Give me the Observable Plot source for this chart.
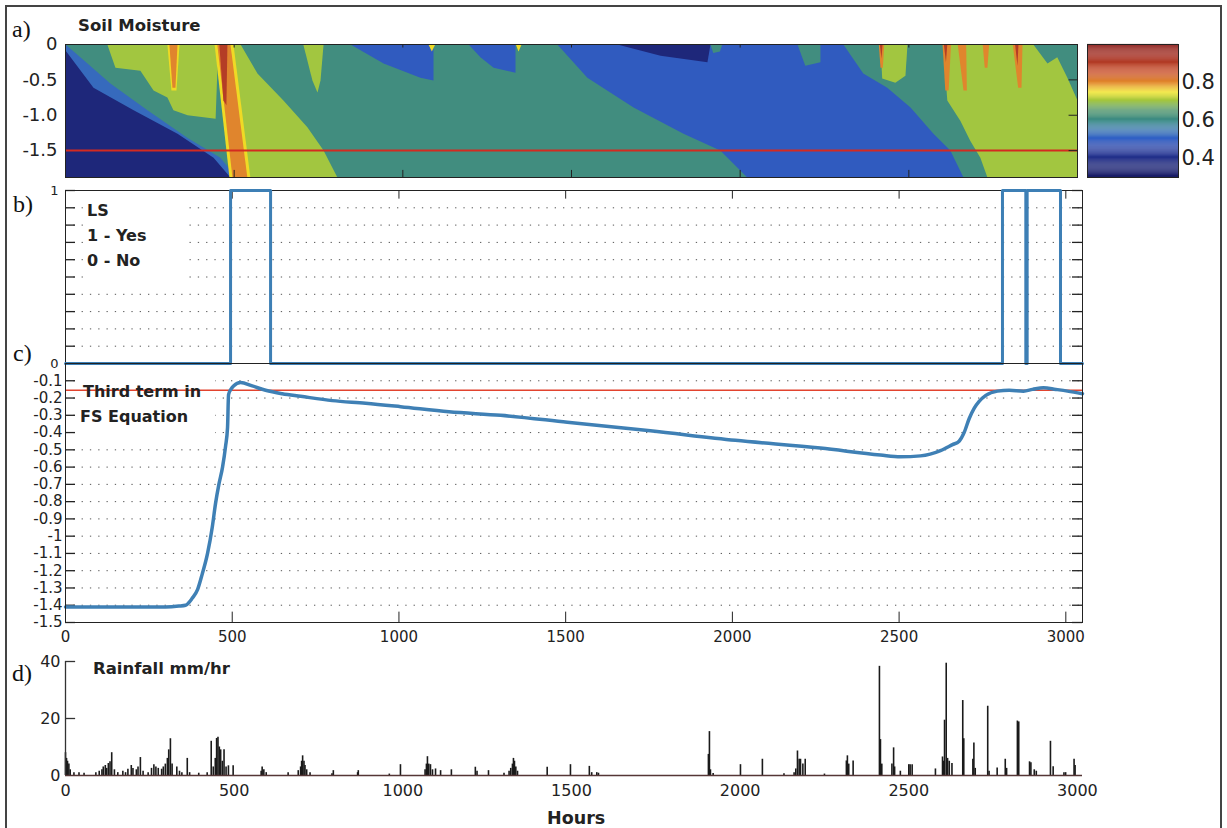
<!DOCTYPE html>
<html><head><meta charset="utf-8">
<script src="https://cdn.jsdelivr.net/npm/d3@7"></script>
<script src="https://cdn.jsdelivr.net/npm/@observablehq/plot@0.6"></script>
<style>
body{margin:0;background:#fff;}
#root{position:relative;width:1227px;height:828px;overflow:hidden;font-family:"DejaVu Sans",sans-serif;background:#fff;}
.panel{position:absolute;}
.lab{position:absolute;font-family:"Liberation Serif","DejaVu Serif",serif;font-size:24px;line-height:1;color:#111;}
.bold{position:absolute;font-weight:bold;line-height:1;color:#222;white-space:nowrap;font-family:"DejaVu Sans",sans-serif;}
#border{position:absolute;left:5px;top:5px;width:1217px;height:840px;border:2px solid #444;box-sizing:border-box;}
</style></head><body><div id="root"><div id="border"></div></div>
<script>
// ---------- axis tick values ----------
const hourTicks = [0, 500, 1000, 1500, 2000, 2500, 3000];
const depthTicks = [0, -0.5, -1.0, -1.5];
const colorbarTicks = [0.4, 0.6, 0.8];
const lsTicks = [0, 1];
const lsGrid = [0.1, 0.2, 0.3, 0.4, 0.5, 0.6, 0.7, 0.8, 0.9];
const fsTicks = [-0.1, -0.2, -0.3, -0.4, -0.5, -0.6, -0.7, -0.8, -0.9, -1, -1.1, -1.2, -1.3, -1.4, -1.5];
const fsGrid = [-0.1, -0.2, -0.3, -0.4, -0.5, -0.6, -0.7, -0.8, -0.9, -1, -1.1, -1.2, -1.3, -1.4];
const rainTicks = [0, 20, 40];

// ---------- colour map (jet-like) ----------
const colorStops = [0.30, 0.38, 0.44, 0.50, 0.54, 0.59, 0.65, 0.70, 0.745, 0.79, 0.85, 0.93, 1.0];
const colorRamp = ["#1a1d66","#1f2a80","#2b3f9e","#3160c6","#3a74b4","#3a8a8a","#4f9468","#a2c640","#f0e324","#e4902e","#c9502a","#a83224","#8a1f1c"];

// ---------- a) soil moisture zones: [hours, depth] outlines, with moisture level ----------
const zoneBase = [[0,0],[3000,0],[3000,-1.88],[0,-1.88]];
const zoneBlueLeft = [[0,0],[44,-0.18],[133,-0.55],[243,-0.93],[362,-1.32],[459,-1.60],[507,-1.88],[0,-1.88]];
const zoneNavyLeft = [[0,-0.085],[83,-0.61],[202,-0.93],[332,-1.26],[439,-1.60],[489,-1.88],[0,-1.88]];
const zoneGreenLeft = [[124,0],[148,-0.33],[222,-0.37],[261,-0.65],[302,-0.75],[320,-0.93],[362,-1.0],[445,-1.05],[453,0]];
const zoneGreenWedge = [[489,0],[519,0],[569,-0.41],[646,-0.79],[717,-1.17],[765,-1.5],[806,-1.88],[520,-1.88]];
const zoneGreenSpike = [[705,0],[765,0],[756,-0.51],[747,-0.68],[732,-0.51]];
const zoneStreakSmallHalo = [[302,0],[338,0],[329,-0.65],[314,-0.65]];
const zoneStreakSmall = [[308,0],[332,0],[326,-0.61],[317,-0.61]];
const zoneStreakMainHalo = [[442,0],[498,0],[548,-1.88],[486,-1.88]];
const zoneStreakMain = [[450,0],[489,0],[539,-1.88],[495,-1.88]];
const zoneStreakMainCore = [[456,0],[480,0],[477,-0.86],[468,-0.79]];
const zoneBlueWedge1 = [[845,0],[1091,0],[1091,-0.51],[1052,-0.47],[943,-0.27]];
const zoneBlueWedge2 = [[1195,0],[1334,0],[1334,-0.40],[1269,-0.33],[1230,-0.18]];
const zoneYellowDot1 = [[1076,0],[1096,0],[1086,-0.1]];
const zoneYellowDot2 = [[1335,0],[1352,0],[1343,-0.1]];
const zoneBlueMid = [[1458,0],[2306,0],[2365,-0.41],[2436,-0.61],[2505,-0.89],[2573,-1.26],[2623,-1.5],[2662,-1.88],[2021,-1.88],[1941,-1.5],[1832,-1.26],[1684,-0.89],[1547,-0.47]];
const zoneNavyTop = [[1636,0],[1912,0],[1903,-0.25],[1764,-0.16]];
const zoneTealNotch1 = [[1912,0],[1947,0],[1940,-0.1],[1920,-0.12]];
const zoneTealNotch2 = [[2170,0],[2238,0],[2238,-0.25],[2193,-0.3]];
const zoneGreenBlob = [[2416,0],[2496,0],[2490,-0.44],[2460,-0.54],[2421,-0.48]];
const zoneGreenRight = [[2602,0],[2869,0],[2911,-0.27],[2940,-0.18],[2970,-0.47],[3000,-0.79],[3000,-1.88],[2733,-1.88],[2712,-1.6],[2682,-1.36],[2653,-1.08],[2614,-0.79]];
const zoneStreakA = [[2411,0],[2427,0],[2423,-0.33],[2416,-0.33]];
const zoneStreakB = [[2600,0],[2625,0],[2618,-0.65],[2608,-0.65]];
const zoneStreakC = [[2645,0],[2670,0],[2672,-0.65],[2662,-0.65]];
const zoneStreakD = [[2719,0],[2738,0],[2733,-0.33],[2725,-0.33]];
const zoneStreakE = [[2808,0],[2837,0],[2834,-0.61],[2824,-0.61]];
const zoneCoreA = [[2414,0],[2422,0],[2419,-0.2]];
const zoneCoreB = [[2604,0],[2614,0],[2610,-0.25]];
const zoneCoreE = [[2815,0],[2825,0],[2822,-0.3]];

const lvNavy = 0.36, lvBlue = 0.49, lvBlueLight = 0.52, lvTeal = 0.61, lvGreen = 0.70, lvYellow = 0.75, lvOrange = 0.80, lvRed = 0.90;

const zones = [
  ["base", lvTeal, zoneBase], ["blueLeft", lvBlueLight, zoneBlueLeft], ["navyLeft", lvNavy, zoneNavyLeft],
  ["greenLeft", lvGreen, zoneGreenLeft], ["greenWedge", lvGreen, zoneGreenWedge], ["greenSpike", lvGreen, zoneGreenSpike],
  ["smallHalo", lvYellow, zoneStreakSmallHalo], ["small", lvOrange, zoneStreakSmall],
  ["mainHalo", lvYellow, zoneStreakMainHalo], ["main", lvOrange, zoneStreakMain], ["mainCore", lvRed, zoneStreakMainCore],
  ["blueW1", lvBlue, zoneBlueWedge1], ["blueW2", lvBlue, zoneBlueWedge2],
  ["ydot1", lvYellow, zoneYellowDot1], ["ydot2", lvYellow, zoneYellowDot2],
  ["blueMid", lvBlue, zoneBlueMid], ["navyTop", lvNavy, zoneNavyTop],
  ["notch1", lvTeal, zoneTealNotch1], ["notch2", lvTeal, zoneTealNotch2],
  ["greenBlob", lvGreen, zoneGreenBlob], ["greenRight", lvGreen, zoneGreenRight],
  ["sA", lvOrange, zoneStreakA], ["sB", lvOrange, zoneStreakB], ["sC", lvOrange, zoneStreakC],
  ["sD", lvOrange, zoneStreakD], ["sE", lvOrange, zoneStreakE],
  ["cA", lvRed, zoneCoreA], ["cB", lvRed, zoneCoreB], ["cE", lvRed, zoneCoreE]
];
const criticalDepth = -1.5;

// ---------- b) landslide indicator (step outline) ----------
const lsHours = [0, 495, 495, 615, 615, 2810, 2810, 2880, 2880, 2884, 2884, 2984, 2984, 3050];
const lsState = [0, 0, 1, 1, 0, 0, 1, 1, 0, 0, 1, 1, 0, 0];

// ---------- c) third term in FS equation ----------
const fsHours = [0, 100, 200, 300, 340, 360, 380, 396, 410, 426, 440, 450, 460, 471, 480, 486, 489, 496, 504, 525, 560, 600, 650, 705, 800, 900, 1005, 1150, 1305, 1505, 1754, 2009, 2264, 2444, 2504, 2564, 2624, 2660, 2680, 2695, 2710, 2725, 2740, 2760, 2795, 2830, 2873, 2900, 2933, 2970, 3005, 3050];
const fsValue = [-1.41, -1.41, -1.41, -1.41, -1.405, -1.40, -1.36, -1.31, -1.22, -1.10, -0.95, -0.81, -0.70, -0.60, -0.48, -0.37, -0.18, -0.15, -0.13, -0.11, -0.13, -0.155, -0.175, -0.19, -0.215, -0.23, -0.25, -0.28, -0.30, -0.34, -0.39, -0.445, -0.49, -0.53, -0.54, -0.535, -0.505, -0.47, -0.45, -0.40, -0.32, -0.26, -0.22, -0.185, -0.16, -0.155, -0.16, -0.15, -0.14, -0.15, -0.16, -0.175];
const fsThreshold = -0.155;

// ---------- d) rainfall ----------
const rainHours = [0,3,6,10,14,25,40,55,90,100,108,112,118,122,127,132,137,145,155,170,178,185,195,200,210,215,222,230,245,255,262,268,275,285,290,296,302,306,311,316,330,338,345,361,368,395,420,432,438,444,448,452,456,460,465,470,476,483,497,580,583,588,595,660,690,697,700,703,707,710,715,725,790,794,866,868,960,993,1066,1070,1073,1077,1082,1088,1097,1112,1144,1215,1220,1254,1300,1315,1320,1325,1328,1331,1335,1340,1428,1497,1553,1560,1575,1580,1906,1909,1912,1920,2001,2066,2130,2160,2165,2170,2175,2179,2186,2193,2250,2315,2318,2322,2335,2413,2416,2420,2450,2455,2458,2475,2500,2504,2510,2579,2600,2603,2606,2611,2615,2620,2628,2660,2663,2690,2693,2697,2734,2738,2762,2786,2790,2822,2826,2858,2862,2872,2878,2920,2928,2960,2965,2990,2993];
const rainMm = [8,6,5,4,2,1,1,0.8,1,1.5,2,3,3.5,2.5,4.2,4.8,8,2,1,1.5,1,2.2,3.5,2.5,2,3,6.3,1.5,1,2.5,3.8,3,2.5,2.2,3,4,6,9,12.9,4,3,1.5,1,6,1,0.8,1,12,3,6,13,13.4,10,9,5,9,3,3.4,3.4,1.5,3,2,1,1,1.7,3,5,6.9,5,3.5,2,1,0.6,1.7,1,1.7,0.5,3.8,2,4,6.6,4,3.8,2,2.3,1.7,2,2.9,1.5,1.7,0.8,1.5,2.5,4,6,5,3,1.5,2.9,3.8,3.2,1,1,0.8,7.4,15.4,2,0.7,3.8,5.7,0.6,1,2.3,8.6,5.7,5.7,4,5.7,0.5,5.1,6.9,4,5.1,38.3,12.6,4,4,9.7,3,1.5,3.8,3.8,3.8,2.3,6.5,5,19.4,39.4,6,5,4.2,26.3,12.9,5.7,11.4,2.5,24.3,1.5,2.6,5.7,2.5,19.1,18.8,4.8,4.5,2,1.5,12,3.1,1,1,5.7,3.5];

// ---------- build ----------
const root = document.getElementById("root");
const colorOpts = {type: "linear", domain: colorStops, range: colorRamp, interpolate: "rgb", clamp: true};
const hy = d => String(d);
const FONT = "DejaVu Sans, sans-serif";
const baseStyle = size => ({background: "transparent", overflow: "visible", fontSize: size + "px", fontFamily: FONT, color: "#222"});

function place(el, left, top) {
  const wrap = document.createElement("div");
  wrap.className = "panel";
  wrap.style.left = left + "px";
  wrap.style.top = top + "px";
  wrap.appendChild(el);
  root.appendChild(wrap);
}
function text(cls, str, left, top, size) {
  const d = document.createElement("div");
  d.className = cls;
  d.textContent = str;
  d.style.left = left + "px";
  d.style.top = top + "px";
  if (size) d.style.fontSize = size + "px";
  root.appendChild(d);
}

const zoneRows = zones.flatMap(([name, level, pts]) => pts.map(([t, d]) => ({name, level, t, d})));

// a) heatmap
const panelA = Plot.plot({
  width: 1085, height: 150, marginLeft: 65, marginRight: 8, marginTop: 14, marginBottom: 3,
  style: baseStyle(18),
  x: {domain: [0, 3000], axis: null},
  y: {domain: [-1.88, 0], label: null, ticks: depthTicks, tickSize: 0, tickPadding: 8, tickFormat: d => d === 0 ? "0" : d.toFixed(1)},
  color: colorOpts,
  marks: [
    Plot.line(zoneRows, {x: "t", y: "d", z: "name", fill: "level", stroke: "none", curve: "linear-closed"}),
    Plot.ruleY([criticalDepth], {stroke: "#d42a20", strokeWidth: 2}),
    Plot.ruleX(hourTicks, {y1: 0, y2: -0.05, stroke: "#222"}),
    Plot.ruleX(hourTicks, {y1: -1.88, y2: -1.78, stroke: "#222"}),
    Plot.ruleY(depthTicks, {x1: 2975, x2: 3000, stroke: "#222"}),
    Plot.frame({stroke: "#222"})
  ]
});
place(panelA, 0, 30);

// colour bar
const rampVals = d3.range(0.3, 1.0, 0.005);
const colorbar = Plot.plot({
  width: 147, height: 150, marginLeft: 7, marginRight: 49, marginTop: 14, marginBottom: 3,
  style: baseStyle(21),
  x: {domain: [0, 1], axis: null},
  y: {domain: [0.3, 1.0], axis: "right", label: null, ticks: colorbarTicks, tickSize: 0, tickPadding: 3, tickFormat: d => d.toFixed(1)},
  color: colorOpts,
  marks: [
    Plot.rect(rampVals, {x1: 0, x2: 1, y1: d => d, y2: d => d + 0.0055, fill: d => d}),
    Plot.frame({stroke: "#222"})
  ]
});
place(colorbar, 1080, 30);

// b) LS
const lsRows = lsHours.map((t, i) => ({t, ls: lsState[i]}));
const lsTickAll = [0, ...lsGrid, 1];
const panelB = Plot.plot({
  width: 1090, height: 185, marginLeft: 65, marginRight: 8, marginTop: 10, marginBottom: 2,
  style: baseStyle(13),
  x: {domain: [0, 3050], axis: null},
  y: {domain: [0, 1], label: null, ticks: lsTicks, tickSize: 0, tickPadding: 7, tickFormat: hy},
  marks: [
    Plot.ruleY(lsGrid, {stroke: "#555", strokeDasharray: "1.3,7"}),
    Plot.rect([0], {x1: 69, x2: 354, y1: 0.47, y2: 0.99, fill: "white"}),
    Plot.ruleY(lsTickAll, {x1: 0, x2: 30, stroke: "#222", strokeWidth: 1.3}),
    Plot.ruleY(lsTickAll, {x1: 3020, x2: 3050, stroke: "#222", strokeWidth: 1.3}),
    Plot.ruleX(hourTicks, {y1: 1, y2: 0.95, stroke: "#222"}),
    Plot.frame({stroke: "#222"}),
    Plot.line(lsRows, {x: "t", y: "ls", stroke: "#3d7fb5", strokeWidth: 3})
  ]
});
place(panelB, 0, 180);

// c) FS third term
const fsRows = fsHours.map((t, i) => ({t, v: fsValue[i]}));
const panelC = Plot.plot({
  width: 1090, height: 297, marginLeft: 65, marginRight: 8, marginTop: 8, marginBottom: 30,
  style: baseStyle(15),
  x: {domain: [0, 3050], label: null, ticks: hourTicks, tickSize: 0, tickPadding: 9, tickFormat: hy},
  y: {domain: [-1.5, 0], label: null, ticks: fsTicks, tickSize: 0, tickPadding: 3, tickFormat: hy},
  marks: [
    Plot.ruleY(fsGrid, {stroke: "#555", strokeDasharray: "1.3,7"}),
    Plot.rect([0], {x1: 35, x2: 450, y1: -0.45, y2: -0.03, fill: "white"}),
    Plot.ruleY(fsTicks, {x1: 0, x2: 30, stroke: "#222", strokeWidth: 1.3}),
    Plot.ruleY(fsTicks, {x1: 3020, x2: 3050, stroke: "#222", strokeWidth: 1.3}),
    Plot.ruleX(hourTicks, {y1: -1.5, y2: -1.44, stroke: "#222"}),
    Plot.ruleY([fsThreshold], {stroke: "#e2432e", strokeWidth: 1.5}),
    Plot.line(fsRows, {x: "t", y: "v", stroke: "#3f80b5", strokeWidth: 3.5, curve: "monotone-x"}),
    Plot.frame({stroke: "#222"})
  ]
});
place(panelC, 0, 355);

// d) rainfall
const rainRows = rainHours.map((t, i) => ({t, mm: rainMm[i]}));
const panelD = Plot.plot({
  width: 1090, height: 178, marginLeft: 65, marginRight: 8, marginTop: 11, marginBottom: 53,
  style: baseStyle(16),
  x: {domain: [0, 3015], label: null, ticks: hourTicks, tickSize: 0, tickPadding: 9, tickFormat: hy},
  y: {domain: [0, 40], label: null, ticks: rainTicks, tickSize: 0, tickPadding: 5, tickFormat: hy},
  marks: [
    Plot.ruleX(rainRows, {x: "t", y1: 0, y2: "mm", stroke: "#1a1a1a", strokeWidth: 1.6}),
    Plot.ruleY([0], {stroke: "#553636", strokeWidth: 1.3}),
    Plot.ruleX([0], {y1: 0, y2: 40, stroke: "#333", strokeWidth: 1.3}),
    Plot.ruleY([20, 40], {x1: 0, x2: 30, stroke: "#333", strokeWidth: 1.3})
  ]
});
place(panelD, 0, 650);

// labels
text("lab", "a)", 12, 17);
text("lab", "b)", 13, 192);
text("lab", "c)", 13, 341);
text("lab", "d)", 12, 661);
text("bold", "Soil Moisture", 78, 18, 16.5);
text("bold", "LS", 87, 203, 16);
text("bold", "1 - Yes", 87, 228, 16);
text("bold", "0 - No", 87, 253, 16);
text("bold", "Third term in", 83, 384, 16);
text("bold", "FS Equation", 80, 409, 16);
text("bold", "Rainfall mm/hr", 93, 661, 16.5);
text("bold", "Hours", 547, 810, 17.5);
</script></body></html>
